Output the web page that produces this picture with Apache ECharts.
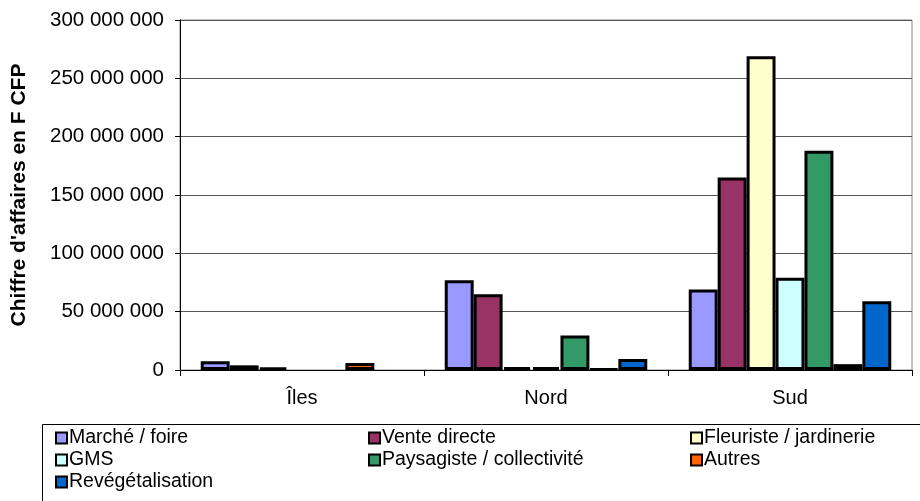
<!DOCTYPE html>
<html>
<head>
<meta charset="utf-8">
<script src="https://cdn.jsdelivr.net/npm/echarts@6/dist/echarts.min.js"></script>
<style>
  html, body { margin: 0; padding: 0; background: #fff; }
  #chart { width: 920px; height: 501px; }
</style>
</head>
<body>
<div id="chart"></div>
<script>
// categories (régions)
var regions = ['Îles', 'Nord', 'Sud'];

// chiffre d'affaires par circuit de vente, en F CFP
var marcheFoire      = [7500000, 77000000, 69000000];
var venteDirecte     = [4000000, 65000000, 165000000];
var fleuriste        = [2000000, 2500000, 269000000];
var gms              = [null, 2500000, 79000000];
var paysagiste       = [null, 29500000, 188000000];
var autres           = [6000000, 1000000, 5000000];
var revegetalisation = [null, 9500000, 59000000];

var seriesNames = ['Marché / foire', 'Vente directe', 'Fleuriste / jardinerie',
    'GMS', 'Paysagiste / collectivité', 'Autres', 'Revégétalisation'];
var seriesData = [marcheFoire, venteDirecte, fleuriste, gms, paysagiste, autres, revegetalisation];
var colors = ['#9999FF', '#993366', '#FFFFCC', '#CCFFFF', '#339966', '#FF6600', '#0066CC'];

var font = 'Liberation Sans, Arial, sans-serif';

var series = [];
for (var i = 0; i < seriesNames.length; i++) {
    series.push({
        name: seriesNames[i],
        type: 'bar',
        data: seriesData[i],
        barGap: '0%',
        barCategoryGap: '17%',
        itemStyle: { color: colors[i], borderColor: '#000', borderWidth: 3 }
    });
}

function fmt(v) {
    return String(v).replace(/\B(?=(\d{3})+(?!\d))/g, ' ');
}

var legendBase = {
    orient: 'vertical',
    top: 427,
    height: 80,
    padding: 0,
    icon: 'rect',
    itemWidth: 11,
    itemHeight: 11,
    itemGap: 0,
    textStyle: { fontFamily: font, fontSize: 19.5, color: '#000', lineHeight: 22, padding: [0, 0, 0, -3] },
    itemStyle: { borderColor: '#000', borderWidth: 2 }
};

var chart = echarts.init(document.getElementById('chart'), null, { renderer: 'canvas' });
var option = {
    animation: false,
    color: colors,
    grid: {
        left: 180, right: 8, top: 20, bottom: 131,
        show: true, borderColor: '#888', borderWidth: 1, backgroundColor: '#fff'
    },
    legend: [
        Object.assign({}, legendBase, { left: 55, data: ['Marché / foire', 'GMS', 'Revégétalisation'] }),
        Object.assign({}, legendBase, { left: 368, data: ['Vente directe', 'Paysagiste / collectivité'] }),
        Object.assign({}, legendBase, { left: 690, data: ['Fleuriste / jardinerie', 'Autres'] })
    ],
    graphic: [{
        type: 'rect',
        shape: { x: 42.5, y: 424.5, width: 900, height: 100 },
        style: { fill: null, stroke: '#000', lineWidth: 1 },
        z: -1
    }],
    xAxis: {
        type: 'category',
        data: regions,
        axisLine: { lineStyle: { color: '#000', width: 1 } },
        axisTick: { show: true, length: 6, lineStyle: { color: '#000' } },
        axisLabel: { fontFamily: font, fontSize: 20, color: '#000', margin: 18 }
    },
    yAxis: {
        type: 'value',
        min: 0,
        max: 300000000,
        interval: 50000000,
        name: "Chiffre d'affaires en F CFP",
        nameLocation: 'middle',
        nameGap: 150,
        nameTextStyle: { fontFamily: font, fontSize: 21, fontWeight: 'bold', color: '#000' },
        axisLine: { show: true, lineStyle: { color: '#000', width: 1 } },
        axisTick: { show: true, length: 5, lineStyle: { color: '#000' } },
        splitLine: { lineStyle: { color: '#555', width: 1 } },
        axisLabel: { fontFamily: font, fontSize: 20.5, color: '#000', margin: 16, formatter: fmt }
    },
    series: series
};
chart.setOption(option);
</script>
</body>
</html>
